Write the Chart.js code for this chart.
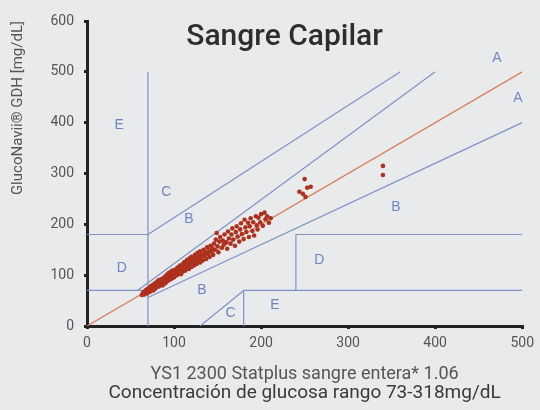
<!DOCTYPE html>
<html>
<head>
<meta charset="utf-8">
<script src="https://cdn.jsdelivr.net/npm/chart.js@4/dist/chart.umd.min.js"></script>
<style>
  html, body { margin: 0; padding: 0; background: #e9eaec; }
  #wrap { width: 540px; height: 410px; }
</style>
</head>
<body>
<div id="wrap"><canvas id="grid"></canvas></div>
<script>
// === Données ===
const chartTitle = "Sangre Capilar";
const xLabelTop = "YS1 2300 Statplus sangre entera* 1.06";
const xLabelBottom = "Concentración de glucosa rango 73-318mg/dL";
const yLabel = "GlucoNavii® GDH [mg/dL]";

const xTicks = [0, 100, 200, 300, 400, 500];
const yTicks = [0, 100, 200, 300, 400, 500, 600];

// [référence YSI, lecteur] en mg/dL
const glucosePairs = [
  [63, 61], [64, 64], [65, 67], [66, 62], [67, 69], [68, 66], [68, 71], [69, 64], [70, 73], [70, 68],
  [71, 70], [72, 76], [72, 67], [73, 74], [74, 71], [74, 79], [75, 75], [76, 70], [76, 81], [77, 77],
  [78, 73], [78, 84], [79, 80], [80, 76], [80, 86], [81, 79], [82, 83], [82, 90], [83, 78], [84, 87],
  [84, 81], [85, 92], [86, 84], [86, 89], [87, 80], [88, 95], [88, 87], [89, 91], [90, 84], [90, 98],
  [91, 93], [92, 88], [92, 101], [93, 95], [94, 90], [94, 104], [95, 97], [96, 92], [96, 106], [97, 99],
  [98, 94], [98, 109], [99, 102],
  [100, 103], [100, 96], [101, 110], [102, 99], [102, 106], [103, 113], [104, 101], [104, 108], [105, 116], [106, 104],
  [106, 111], [107, 119], [108, 109], [108, 102], [109, 114], [110, 122], [110, 107], [111, 117], [112, 126], [112, 113],
  [113, 109], [114, 121], [115, 130], [115, 116], [116, 124], [117, 112], [118, 133], [118, 121], [119, 127], [120, 116],
  [120, 136], [121, 125], [122, 131], [123, 119], [124, 140], [125, 128], [125, 134], [126, 122], [127, 144], [128, 131],
  [129, 138], [130, 125], [130, 147], [131, 135], [132, 141], [133, 129], [134, 150], [135, 138], [136, 145], [137, 132],
  [138, 155], [139, 142], [140, 149], [141, 136], [142, 158], [143, 146], [144, 153], [145, 140], [146, 162], [147, 150],
  [148, 170], [149, 183], [150, 157], [151, 145], [152, 166], [153, 175], [155, 154], [156, 168], [157, 160], [158, 180],
  [160, 165], [161, 152], [162, 186], [163, 172], [165, 162], [166, 180], [167, 192], [168, 170], [170, 158], [171, 185],
  [172, 196], [173, 176], [175, 166], [176, 190], [177, 202], [178, 181], [180, 171], [181, 209], [182, 194], [183, 185],
  [185, 203], [186, 175], [187, 196], [188, 212], [190, 187], [191, 204], [192, 178], [194, 216], [195, 198], [196, 190],
  [197, 213], [199, 204], [200, 220], [202, 197], [204, 223], [205, 210], [207, 216], [209, 203], [211, 212],
  [244, 264], [248, 260], [250, 289], [251, 254], [253, 272], [257, 274], [340, 315], [340, 297]
];

// limites des zones (grille d'erreur)
const zoneLines = [
  [[0, 180], [70, 180]],
  [[0, 70], [70, 70]],
  [[70, 0], [70, 500]],
  [[58, 70], [400, 500]],
  [[70, 180], [360, 500]],
  [[70, 56], [500, 400]],
  [[130, 0], [180, 70]],
  [[180, 0], [180, 70]],
  [[180, 70], [500, 70]],
  [[240, 70], [240, 180]],
  [[240, 180], [500, 180]]
];
const identityLine = [[0, 0], [500, 500]];

const zoneNames = ["E", "C", "B", "D", "B", "C", "E", "D", "B", "A", "A"];
const zoneX = [37, 91, 117, 40, 132, 165, 216, 267, 355, 471, 495];
const zoneY = [396, 264, 211, 114, 71, 26, 41, 130, 234, 527, 449];

const condensed = "Roboto, 'Liberation Sans', sans-serif";

// === Jeux de données ===
const datasets = [{
  data: glucosePairs.map(p => ({ x: p[0], y: p[1] })),
  pointRadius: 2.3,
  pointBackgroundColor: "#ad311e",
  pointBorderWidth: 0,
  showLine: false
}, {
  data: identityLine.map(p => ({ x: p[0], y: p[1] })),
  showLine: true,
  borderColor: "#d9805e",
  borderWidth: 1.3,
  pointRadius: 0
}];

zoneLines.forEach(seg => {
  datasets.push({
    data: seg.map(p => ({ x: p[0], y: p[1] })),
    showLine: true,
    borderColor: "#7f92c6",
    borderWidth: 1.2,
    pointRadius: 0
  });
});

// Étiquettes des zones et titre principal
const textPlugin = {
  id: "zoneText",
  afterDatasetsDraw(chart) {
    const ctx = chart.ctx;
    const xs = chart.scales.x, ys = chart.scales.y;
    ctx.save();
    ctx.fillStyle = "#6f86c2";
    ctx.font = "14px 'Liberation Sans', sans-serif";
    ctx.textAlign = "center";
    ctx.textBaseline = "middle";
    zoneNames.forEach((n, i) => {
      ctx.fillText(n, xs.getPixelForValue(zoneX[i]), ys.getPixelForValue(zoneY[i]));
    });
    ctx.fillStyle = "#2e2e2e";
    ctx.font = "500 30px " + condensed;
    ctx.fillText(chartTitle, xs.getPixelForValue(227), ys.getPixelForValue(568));
    ctx.restore();
  }
};

new Chart(document.getElementById("grid"), {
  type: "scatter",
  data: { datasets: datasets },
  options: {
    responsive: true,
    maintainAspectRatio: false,
    animation: false,
    layout: { padding: { top: 21, right: 13, left: 0, bottom: 0 } },
    scales: {
      x: {
        min: 0, max: 500,
        afterFit(scale) { scale.height = 30; },
        afterBuildTicks(scale) { scale.ticks = xTicks.map(v => ({ value: v })); },
        border: { display: true, color: "#222", width: 3 },
        grid: { drawOnChartArea: false, drawTicks: true, tickLength: 3, color: "#222", lineWidth: 3 },
        ticks: { color: "#555", padding: 6, font: { family: condensed, size: 14 } }
      },
      y: {
        min: 0, max: 600,
        afterFit(scale) { scale.width = 87; },
        afterBuildTicks(scale) { scale.ticks = yTicks.map(v => ({ value: v })); },
        border: { display: true, color: "#222", width: 3 },
        grid: { drawOnChartArea: false, drawTicks: true, tickLength: 3, color: "#222", lineWidth: 3 },
        ticks: { color: "#555", padding: 10, font: { family: condensed, size: 14 } },
        title: {
          display: true,
          text: yLabel,
          align: "end",
          color: "#555",
          padding: { top: 9, bottom: 0 },
          font: { family: condensed, size: 15 }
        }
      }
    },
    plugins: {
      legend: { display: false },
      tooltip: { enabled: false },
      subtitle: {
        display: true,
        position: "bottom",
        fullSize: false,
        text: xLabelTop,
        color: "#555",
        padding: { top: 9.5, bottom: 0 },
        font: { family: condensed, size: 18, weight: "normal", lineHeight: 1 }
      },
      title: {
        display: true,
        position: "bottom",
        fullSize: false,
        text: xLabelBottom,
        color: "#3a3a3a",
        padding: { top: 0, bottom: 7.5 },
        font: { family: condensed, size: 19, weight: "normal", lineHeight: 1 }
      }
    }
  },
  plugins: [textPlugin]
});
</script>
</body>
</html>
